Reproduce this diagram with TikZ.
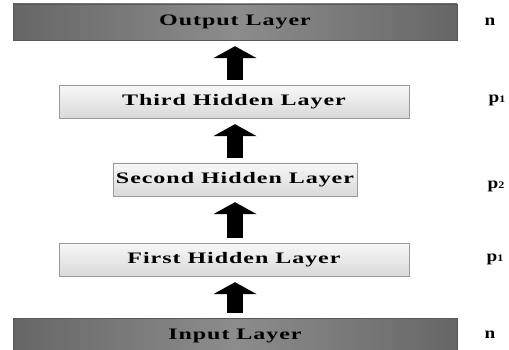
\documentclass[tikz,border=0pt]{standalone}
\usepackage{fontspec}
\usetikzlibrary{arrows.meta}
\newfontfamily\layerfont[FakeStretch=1.5,LetterSpace=6]{Liberation Serif}
\newfontfamily\sizefont[FakeStretch=1.2]{Liberation Serif}
\tikzset{
    darklayer/.style={draw=black!65,left color=black!60,right color=black!60,middle color=black!45,
        minimum width=444pt,minimum height=36pt,inner sep=0pt,
        font=\layerfont\bfseries\fontsize{16}{16}\selectfont},
    lightlayer/.style={draw=black!40,top color=black!3,bottom color=black!15,
        minimum height=33pt,inner sep=0pt,
        font=\layerfont\bfseries\fontsize{16}{16}\selectfont},
    sizelabel/.style={font=\sizefont\bfseries\fontsize{16}{16}\selectfont,inner sep=0pt},
    uparrow/.style={line width=16pt,-{Triangle[width=43pt,length=12pt]},shorten <=5pt,shorten >=6pt}
}
\newcommand{\psub}[1]{p{\fontsize{10}{10}\selectfont #1}}
\begin{document}
\begin{tikzpicture}[x=1pt,y=-1pt]
        \useasboundingbox (0,0) rectangle (509,350);

        % Layers
        \node[darklayer] (output) at (235,22) {Output Layer};
        \node[lightlayer,minimum width=350pt] (third) at (234,101.5) {Third Hidden Layer};
        \node[lightlayer,minimum width=244pt] (second) at (235,179.5) {Second Hidden Layer};
        \node[lightlayer,minimum width=350pt] (first) at (234,259.5) {First Hidden Layer};
        \node[darklayer] (input) at (235,336) {Input Layer};

        % Sizes
        \node[sizelabel] (nout) at (490,22) {n};
        \node[sizelabel] (pthird) at (497,100) {\psub{1}};
        \node[sizelabel] (psecond) at (496,186) {\psub{2}};
        \node[sizelabel] (pfirst) at (495,259) {\psub{1}};
        \node[sizelabel] (nin) at (490,335) {n};

        % Arrows
        \draw[uparrow] (input.north -| output.south) -- (first.south -| output.south);
        \draw[uparrow] (first.north -| output.south) -- (second.south -| output.south);
        \draw[uparrow] (second.north -| output.south) -- (third.south -| output.south);
        \draw[uparrow] (third.north -| output.south) -- (output.south);
    \end{tikzpicture}
\end{document}
